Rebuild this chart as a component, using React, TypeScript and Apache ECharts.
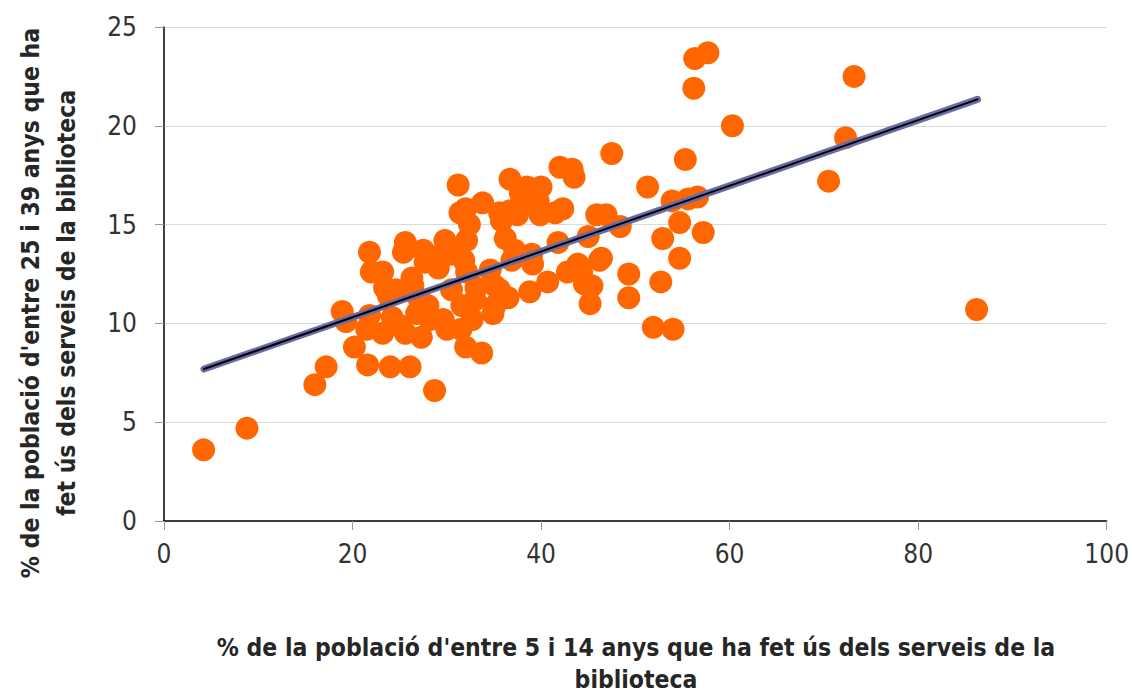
import React, { useEffect, useRef } from "react";
import * as echarts from "echarts";

const xTicks = [0, 20, 40, 60, 80, 100];
const yTicks = [0, 5, 10, 15, 20, 25];

const pointsX = [
  4.2, 8.8, 16.0, 17.2,
  18.9, 19.3, 20.2, 21.6, 21.8, 22.0, 21.5, 21.8, 23.2, 23.2, 24.0, 23.8, 24.2, 23.4, 24.6,
  25.6, 25.4, 25.0, 25.6, 26.1, 26.3, 26.4, 26.8, 27.1, 27.3, 27.5, 27.7, 28.0, 28.2, 28.7, 28.4, 29.1,
  29.8, 30.0, 29.6, 30.3, 30.5, 31.2, 31.4, 31.6, 31.5, 31.8, 32.0, 32.0, 32.1, 32.1, 32.4, 32.7, 33.0, 33.1, 33.7, 33.8,
  34.6, 34.9, 35.1, 35.1, 35.6, 35.8, 35.6, 36.2, 36.5, 36.7, 36.7, 36.9, 37.2, 37.5, 37.8, 38.3, 38.5, 38.8, 39.0, 39.1, 39.7, 39.9, 40.0,
  40.7, 41.5, 41.8, 42.0, 42.3, 42.8, 43.3, 43.5, 43.9, 44.3, 44.6, 45.0, 45.2, 45.4, 45.9, 46.2, 46.4, 46.9, 47.5, 48.4,
  49.3, 49.3, 51.3, 51.9, 52.7, 52.9, 53.9, 54.0, 54.7, 54.7, 55.3, 55.6, 56.3, 56.2, 56.6, 57.2, 57.7, 60.3,
  70.5, 72.3, 73.2, 86.2,
];
const pointsY = [
  3.6, 4.7, 6.9, 7.8,
  10.6, 10.1, 8.8, 7.9, 13.6, 12.6, 9.7, 10.4, 12.6, 9.5, 7.8, 11.4, 10.3, 11.8, 11.7,
  14.1, 13.6, 9.9, 9.5, 7.8, 12.3, 11.9, 10.5, 11.2, 9.3, 13.7, 13.1, 10.9, 10.2, 6.6, 13.4, 12.8,
  14.2, 9.7, 10.2, 13.5, 11.7, 17.0, 15.6, 10.9, 9.7, 13.2, 8.8, 15.8, 14.2, 12.6, 15.0, 10.2, 11.2, 11.8, 8.5, 16.1,
  12.7, 10.5, 10.9, 11.9, 15.6, 15.2, 11.7, 14.3, 11.3, 17.3, 15.7, 13.2, 13.7, 15.5, 16.6, 16.0, 16.9, 11.6, 13.5, 13.0, 16.2, 15.5, 16.9,
  12.1, 15.6, 14.1, 17.9, 15.8, 12.6, 17.8, 17.4, 13.0, 12.6, 12.0, 14.4, 11.0, 11.9, 15.5, 13.2, 13.3, 15.5, 18.6, 14.9,
  12.5, 11.3, 16.9, 9.8, 12.1, 14.3, 16.2, 9.7, 15.1, 13.3, 18.3, 16.3, 23.4, 21.9, 16.4, 14.6, 23.7, 20.0,
  17.2, 19.4, 22.5, 10.7,
];

const trendX = [4.24, 86.3];
const trendY = [7.69, 21.34];

const yTitle = "% de la població d'entre 25 i 39 anys que ha\nfet ús dels serveis de la biblioteca";
const xTitle = "% de la població d'entre 5 i 14 anys que ha fet ús dels serveis de la\nbiblioteca";

const FONT = "'Liberation Sans Narrow', 'DejaVu Sans Condensed', sans-serif";

export default function App() {
  const ref = useRef<HTMLDivElement>(null);
  useEffect(() => {
    if (!ref.current) return;
    const chart = echarts.init(ref.current, null, { renderer: "svg" });
    const scatter = pointsX.map((x, i) => [x, pointsY[i]]);
    const trend = trendX.map((x, i) => [x, trendY[i]]);
    chart.setOption({
      animation: false,
      grid: { left: 164, right: 25, top: 27, bottom: 174, containLabel: false },
      xAxis: {
        type: "value",
        min: xTicks[0],
        max: xTicks[xTicks.length - 1],
        interval: 20,
        axisLine: { show: true, onZero: false, lineStyle: { color: "#000", width: 1.5 } },
        axisTick: { show: true, length: 9, lineStyle: { color: "#999" } },
        splitLine: { show: false },
        axisLabel: { fontSize: 26, color: "#333", margin: 20, fontFamily: FONT },
      },
      yAxis: {
        type: "value",
        min: yTicks[0],
        max: yTicks[yTicks.length - 1],
        interval: 5,
        axisLine: { show: true, onZero: false, lineStyle: { color: "#000", width: 1.5 } },
        axisTick: { show: true, length: 9, lineStyle: { color: "#999" } },
        splitLine: { show: true, lineStyle: { color: "#d9d9d9", width: 1 } },
        axisLabel: { fontSize: 26, color: "#333", margin: 27, fontFamily: FONT },
      },
      series: [
        {
          type: "scatter",
          data: scatter,
          symbol: "circle",
          symbolSize: 23,
          itemStyle: { color: "#FF6600", opacity: 1 },
          z: 2,
        },
        {
          type: "line",
          data: trend,
          symbol: "none",
          lineStyle: { color: "#6b6ba6", width: 7, cap: "round" },
          z: 3,
        },
        {
          type: "line",
          data: trend,
          symbol: "none",
          lineStyle: { color: "#000", width: 2, cap: "round" },
          z: 4,
        },
      ],
      graphic: [
        {
          type: "text",
          x: 48,
          y: 303,
          rotation: Math.PI / 2,
          style: {
            text: yTitle,
            font: `bold 24.5px ${FONT}`,
            fill: "#262626",
            align: "center",
            verticalAlign: "middle",
            lineHeight: 36,
          },
        },
        {
          type: "text",
          x: 636,
          y: 663,
          style: {
            text: xTitle,
            font: `bold 24.5px ${FONT}`,
            fill: "#262626",
            align: "center",
            verticalAlign: "middle",
            lineHeight: 32,
          },
        },
      ],
    });
    return () => chart.dispose();
  }, []);
  return (
    <div
      ref={ref}
      style={{ position: "absolute", left: 0, top: 0, width: 1132, height: 695 }}
    />
  );
}
